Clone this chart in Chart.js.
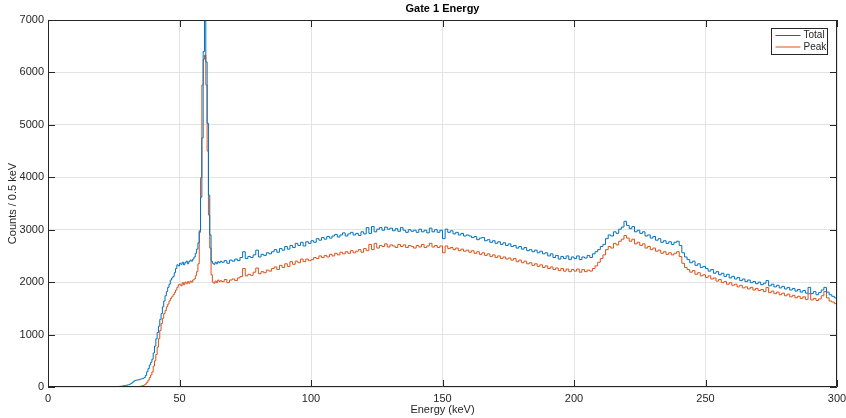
<!DOCTYPE html>
<html>
<head>
<meta charset="utf-8">
<title>Gate 1 Energy</title>
<script src="https://cdn.jsdelivr.net/npm/chart.js@4.4.1/dist/chart.umd.min.js"></script>
<style>
  html, body { margin: 0; padding: 0; background: #fff; }
  #wrap { width: 846px; height: 418px; position: relative; }
</style>
</head>
<body>
<div id="wrap"><canvas id="chart"></canvas></div>
<script>
// histogram counts
// fine bins: 0.5 keV wide, starting at 20 keV (20 .. 65.5)
const totalFine = [
  0, 0, 0, 0, 0, 0, 0, 0, 0, 2,
  4, 6, 8, 10, 12, 15, 18, 22, 28, 32,
  38, 42, 55, 70, 90, 110, 125, 130, 135, 140,
  150, 155, 165, 180, 220, 290, 350, 420, 470, 530,
  650, 780, 920, 1040, 1160, 1290, 1400, 1530, 1640, 1740,
  1820, 1900, 1960, 2040, 2080, 2110, 2180, 2260, 2330, 2310,
  2360, 2340, 2380, 2330, 2370, 2400, 2350, 2390, 2420, 2400,
  2440, 2480, 2550, 2630, 2750, 2980, 3620, 4750, 6400, 7600,
  6200, 5030, 3660, 2900, 2400, 2360, 2340, 2380, 2350, 2390, 2370, 2400
];
const peakFine = [
  0, 0, 0, 0, 0, 0, 0, 0, 0, 0,
  0, 0, 0, 0, 0, 0, 0, 0, 0, 0,
  0, 0, 1, 2, 3, 4, 5, 6, 8, 10,
  14, 20, 28, 40, 60, 90, 130, 180, 230, 290,
  400, 500, 620, 760, 920, 1080, 1210, 1310, 1400, 1460,
  1530, 1580, 1640, 1690, 1720, 1760, 1800, 1850, 1900, 1950,
  1960, 1930, 1990, 1950, 2000, 1970, 2010, 1980, 2020, 2000,
  2040, 2060, 2120, 2200, 2350, 2950, 3990, 5760, 6250, 6330,
  5760, 4500, 3280, 2650, 2140, 2000, 1980, 2020, 1990, 2040, 2010, 2030
];
// coarse bins: 1 keV wide, 66 .. 299 keV
const totalCoarse = [
  2380, 2410, 2360, 2420, 2400, 2440, 2410, 2470, 2580, 2450,
  2490, 2470, 2520, 2610, 2480, 2530, 2510, 2560, 2540, 2580,
  2620, 2570, 2640, 2610, 2680, 2630, 2700, 2660, 2740, 2700,
  2760, 2690, 2770, 2740, 2790, 2760, 2830, 2800, 2850, 2820,
  2870, 2840, 2880, 2910, 2860, 2900, 2940, 2880, 2920, 2950,
  2900, 2930, 2890, 2960, 2920, 3040, 2930, 3060, 2960, 3010,
  3040, 2990, 3050, 3010, 3030, 2980, 3020, 2970, 3040, 2990,
  2950, 3000, 2970, 2990, 2950, 3010, 2960, 2990, 2940, 3030,
  2960, 3000, 2950, 2990, 2830, 3010, 2950, 2980, 2920, 2950,
  2900, 2930, 2880, 2900, 2880, 2850, 2870, 2810, 2840, 2850,
  2790, 2810, 2760, 2790, 2740, 2770, 2720, 2750, 2700, 2730,
  2680, 2700, 2650, 2680, 2630, 2660, 2600, 2620, 2580, 2610,
  2560, 2590, 2540, 2560, 2500, 2540, 2470, 2510, 2440, 2490,
  2450, 2500, 2430, 2480, 2450, 2500, 2430, 2480, 2460, 2510,
  2470, 2540, 2580, 2620, 2680, 2720, 2830, 2900, 2880, 2960,
  2930, 3010, 3050, 3160, 3080, 3020, 3060, 2960, 2990, 2930,
  2960, 2880, 2900, 2840, 2870, 2800, 2830, 2760, 2790, 2740,
  2770, 2720, 2760, 2780, 2700, 2560, 2480, 2430, 2370, 2400,
  2320, 2350, 2280, 2300, 2260, 2210, 2240, 2170, 2200, 2140,
  2170, 2110, 2150, 2080, 2110, 2060, 2090, 2030, 2060, 2010,
  2040, 1990, 2010, 1970, 2000, 1950, 1980, 2030, 1930, 1960,
  1910, 1940, 1890, 1920, 1870, 1900, 1850, 1880, 1830, 1860,
  1810, 1840, 1790, 1900, 1780, 1820, 1760, 1800, 1850, 1900,
  1810, 1760, 1730, 1700
];
const peakCoarse = [
  2010, 2050, 1990, 2040, 2060, 2030, 2080, 2110, 2260, 2120,
  2150, 2130, 2190, 2270, 2160, 2200, 2180, 2230, 2210, 2260,
  2290, 2240, 2320, 2280, 2350, 2300, 2390, 2340, 2400, 2370,
  2440, 2390, 2440, 2410, 2430, 2470, 2450, 2500, 2470, 2510,
  2480, 2530, 2500, 2550, 2520, 2570, 2540, 2580, 2550, 2600,
  2560, 2590, 2620, 2570, 2640, 2600, 2720, 2620, 2740, 2650,
  2700, 2680, 2730, 2670, 2710, 2690, 2660, 2720, 2680, 2710,
  2660, 2700, 2680, 2650, 2700, 2670, 2720, 2660, 2690, 2740,
  2670, 2700, 2660, 2690, 2560, 2690, 2640, 2660, 2620, 2650,
  2600, 2630, 2590, 2610, 2570, 2600, 2550, 2580, 2530, 2560,
  2510, 2540, 2490, 2520, 2470, 2500, 2450, 2480, 2440, 2460,
  2420, 2450, 2390, 2420, 2370, 2400, 2350, 2370, 2320, 2350,
  2300, 2330, 2280, 2310, 2260, 2290, 2240, 2270, 2220, 2260,
  2210, 2250, 2200, 2240, 2210, 2250, 2190, 2240, 2200, 2230,
  2210, 2260, 2310, 2380, 2450, 2520, 2620, 2680, 2650, 2740,
  2710, 2780, 2820, 2890, 2840, 2780, 2820, 2730, 2760, 2700,
  2730, 2650, 2680, 2620, 2650, 2590, 2610, 2550, 2580, 2530,
  2560, 2520, 2550, 2580, 2490, 2360, 2280, 2240, 2190, 2220,
  2150, 2180, 2120, 2140, 2090, 2120, 2060, 2080, 2020, 2050,
  1990, 2010, 1960, 1990, 1940, 1960, 1910, 1940, 1890, 1910,
  1870, 1900, 1850, 1880, 1840, 1860, 1820, 1900, 1800, 1830,
  1780, 1810, 1760, 1790, 1740, 1770, 1720, 1750, 1700, 1730,
  1690, 1720, 1670, 1780, 1660, 1690, 1650, 1680, 1740, 1820,
  1700, 1640, 1620, 1590
];
const xTicks = [0, 50, 100, 150, 200, 250, 300];
const yTicks = [0, 1000, 2000, 3000, 4000, 5000, 6000, 7000];

const fineStart = 20, fineStep = 0.5;
const coarseStart = 66, coarseStep = 1;

function toPoints(fine, coarse) {
  const pts = [{ x: 0, y: 0 }];
  fine.forEach((v, i) => pts.push({ x: fineStart + i * fineStep, y: v }));
  coarse.forEach((v, i) => pts.push({ x: coarseStart + i * coarseStep, y: v }));
  pts.push({ x: 300, y: coarse[coarse.length - 1] }); // close last bin
  return pts;
}

const FONT = '"Liberation Sans", Arial, Helvetica, sans-serif';
const AXIS = '#262626';

// MATLAB-ish box, inward ticks, title and legend
const matlabAxes = {
  id: 'matlabAxes',
  afterDraw(chart) {
    const { ctx, chartArea: a, scales } = chart;
    const tl = 7;
    ctx.save();
    ctx.strokeStyle = AXIS;
    ctx.lineWidth = 1;
    ctx.beginPath();
    ctx.rect(Math.round(a.left) + 0.5, Math.round(a.top) + 0.5,
             Math.round(a.right - a.left) - 1, Math.round(a.bottom - a.top) - 1);
    xTicks.forEach(t => {
      const px = Math.round(scales.x.getPixelForValue(t)) + 0.5;
      ctx.moveTo(px, a.bottom); ctx.lineTo(px, a.bottom - tl);
      ctx.moveTo(px, a.top); ctx.lineTo(px, a.top + tl);
    });
    yTicks.forEach(t => {
      const py = Math.round(scales.y.getPixelForValue(t)) + 0.5;
      ctx.moveTo(a.left, py); ctx.lineTo(a.left + tl, py);
      ctx.moveTo(a.right, py); ctx.lineTo(a.right - tl, py);
    });
    ctx.stroke();

    // title
    ctx.fillStyle = '#000';
    ctx.font = 'bold 11px ' + FONT;
    ctx.textAlign = 'center';
    ctx.textBaseline = 'middle';
    ctx.fillText('Gate 1 Energy', (a.left + a.right) / 2, 9);

    // legend box
    const bx = a.right - 65.5, by = a.top + 8.5, bw = 56, bh = 26;
    ctx.fillStyle = '#fff';
    ctx.fillRect(bx, by, bw, bh);
    ctx.strokeStyle = AXIS;
    ctx.strokeRect(bx, by, bw, bh);
    const items = chart.data.datasets;
    ctx.font = '10px ' + FONT;
    ctx.textAlign = 'left';
    items.forEach((ds, i) => {
      const ly = by + 7 + i * 11.5;
      ctx.strokeStyle = ds.borderColor;
      ctx.beginPath();
      ctx.moveTo(bx + 4, ly); ctx.lineTo(bx + 29, ly);
      ctx.stroke();
      ctx.fillStyle = AXIS;
      ctx.fillText(ds.label, bx + 32, ly);
    });
    ctx.restore();
  }
};

new Chart(document.getElementById('chart'), {
  type: 'line',
  data: {
    datasets: [
      {
        label: 'Total',
        data: toPoints(totalFine, totalCoarse),
        borderColor: '#0072BD',
        borderWidth: 1,
        stepped: true,
        pointRadius: 0,
        fill: false,
      },
      {
        label: 'Peak',
        data: toPoints(peakFine, peakCoarse),
        borderColor: '#D95319',
        borderWidth: 1,
        stepped: true,
        pointRadius: 0,
        fill: false,
      },
    ],
  },
  options: {
    responsive: true,
    maintainAspectRatio: false,
    animation: false,
    layout: { padding: { top: 20, right: 9, left: 0, bottom: 0 } },
    plugins: {
      legend: { display: false },
      tooltip: { enabled: false },
      title: { display: false },
    },
    scales: {
      x: {
        type: 'linear',
        min: 0,
        max: 300,
        afterFit: s => { s.height = 31; s.paddingLeft = 0; s.paddingRight = 0; },
        afterBuildTicks: s => { s.ticks = xTicks.map(v => ({ value: v })); },
        ticks: {
          color: AXIS, font: { family: FONT, size: 11 }, padding: 5, maxRotation: 0,
          callback: v => String(v),
        },
        grid: { color: '#e3e3e3', drawTicks: false },
        border: { display: false },
        title: {
          display: true,
          text: 'Energy (keV)',
          color: AXIS,
          font: { family: FONT, size: 11 },
          padding: { top: 0, bottom: 1 },
        },
      },
      y: {
        min: 0,
        max: 7000,
        afterFit: s => { s.width = 48; s.paddingTop = 0; s.paddingBottom = 0; },
        afterBuildTicks: s => { s.ticks = yTicks.map(v => ({ value: v })); },
        ticks: {
          color: AXIS, font: { family: FONT, size: 11 }, padding: 4,
          callback: v => String(v),
        },
        grid: { color: '#e3e3e3', drawTicks: false },
        border: { display: false },
        title: {
          display: true,
          text: 'Counts / 0.5 keV',
          color: AXIS,
          font: { family: FONT, size: 11 },
          padding: { top: 6, bottom: 0 },
        },
      },
    },
  },
  plugins: [matlabAxes],
});
</script>
</body>
</html>
